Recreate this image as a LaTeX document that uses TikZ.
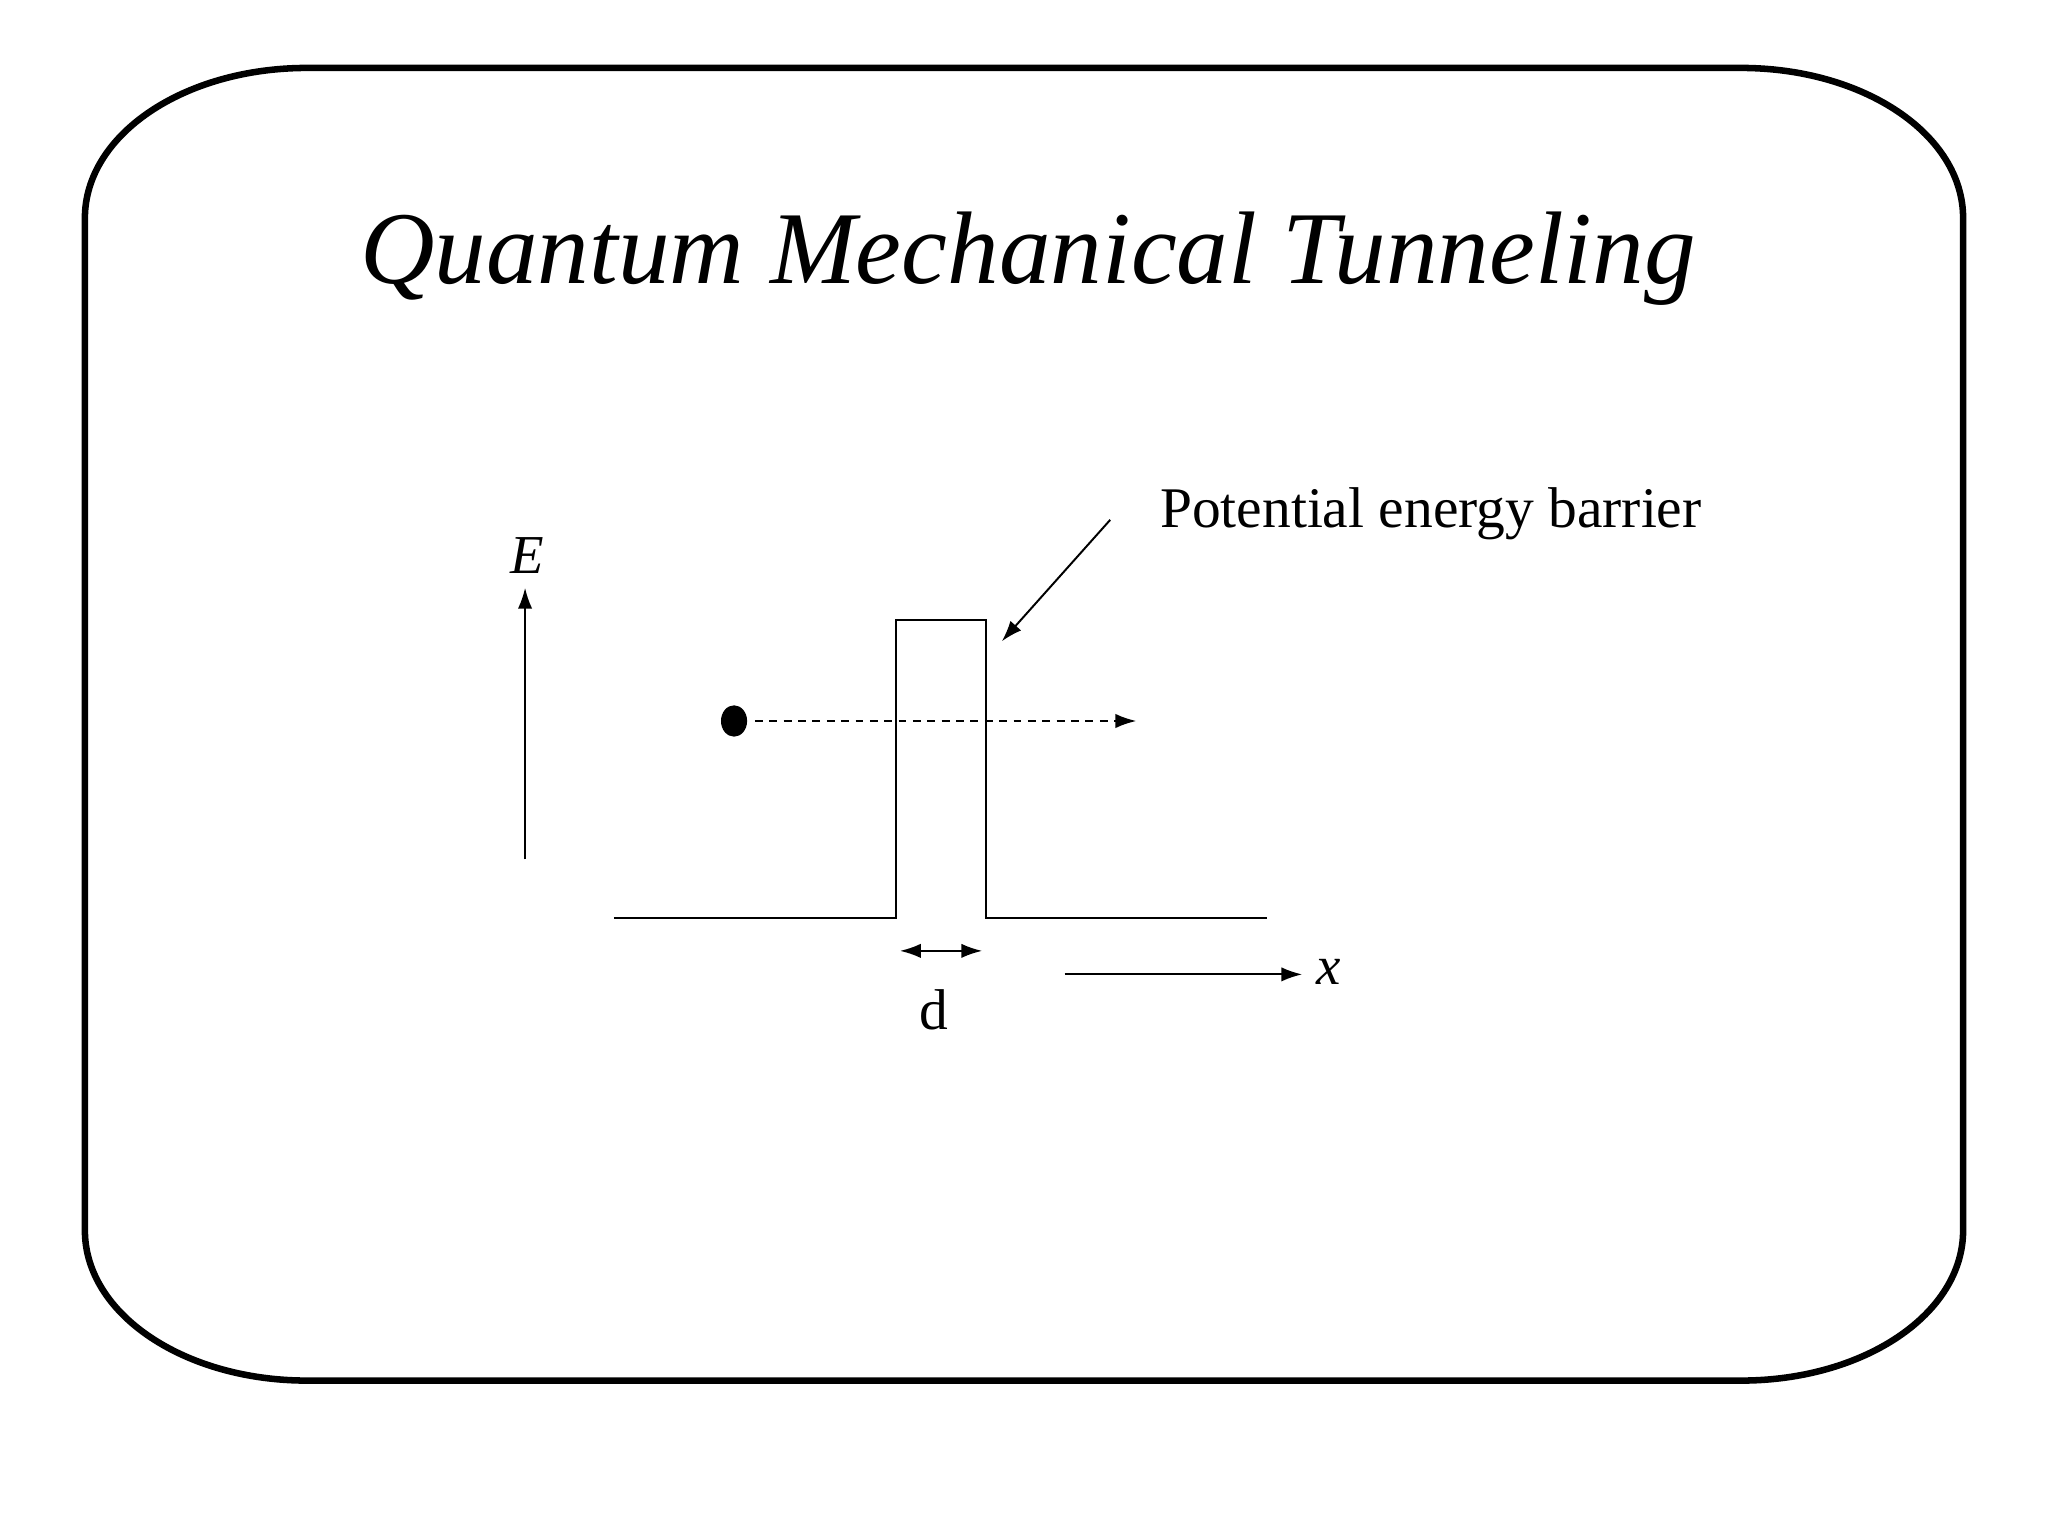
\documentclass[tikz,border=0pt]{standalone}
\usepackage{fontspec}
\setmainfont{Liberation Serif}
\usetikzlibrary{arrows.meta}
\begin{document}
\begin{tikzpicture}[x=1pt,y=-1pt,
  ln/.style={line width=1.5pt},
  arr/.style={ln,-{Latex[length=16pt,width=11pt]}},
  lbl/.style={inner sep=0pt,font=\fontsize{44}{48}\selectfont}]
\useasboundingbox (0,0) rectangle (1568,1176);
\draw[line width=5pt] (235,52) -- (1333,52) .. controls (1427,52) and (1503,103) .. (1503,167)
  -- (1503,942) .. controls (1503,1006) and (1427,1057) .. (1333,1057)
  -- (235,1057) .. controls (141,1057) and (65,1006) .. (65,942)
  -- (65,167) .. controls (65,103) and (141,52) .. (235,52) -- cycle;
\node[inner sep=0pt,font=\fontsize{79}{86}\selectfont\itshape] (title) at (787,198) {Quantum Mechanical Tunneling};
\node[lbl,font=\fontsize{42}{46}\selectfont\itshape] (E) at (404,425) {E};
\coordinate (e0) at (402,658); \coordinate (e1) at (402,450);
\draw[arr] (e0) -- (e1);
\coordinate (b0) at (470,703); \coordinate (b1) at (686,703); \coordinate (b2) at (686,475);
\coordinate (b3) at (755,475); \coordinate (b4) at (755,703); \coordinate (b5) at (970,703);
\draw[ln] (b0) -- (b1) -- (b2) -- (b3) -- (b4) -- (b5);
\fill (562,552) ellipse (10pt and 12pt);
\coordinate (p0) at (578,552); \coordinate (p1) at (870,552);
\draw[arr,dash pattern=on 6pt off 5pt] (p0) -- (p1);
\node[lbl,anchor=west] (pe) at (888,393) {Potential energy barrier};
\coordinate (a0) at (850,398); \coordinate (a1) at (767,491);
\draw[arr] (a0) -- (a1);
\coordinate (d0) at (689,728); \coordinate (d1) at (752,728);
\draw[ln,{Latex[length=16pt,width=11pt]}-{Latex[length=16pt,width=11pt]}] (d0) -- (d1);
\node[lbl] (d) at (715,773) {d};
\coordinate (x0) at (815,746); \coordinate (x1) at (997,746);
\draw[arr] (x0) -- (x1);
\node[lbl,font=\fontsize{42}{46}\selectfont\itshape] (x) at (1017,744) {x};
\end{tikzpicture}
\end{document}
